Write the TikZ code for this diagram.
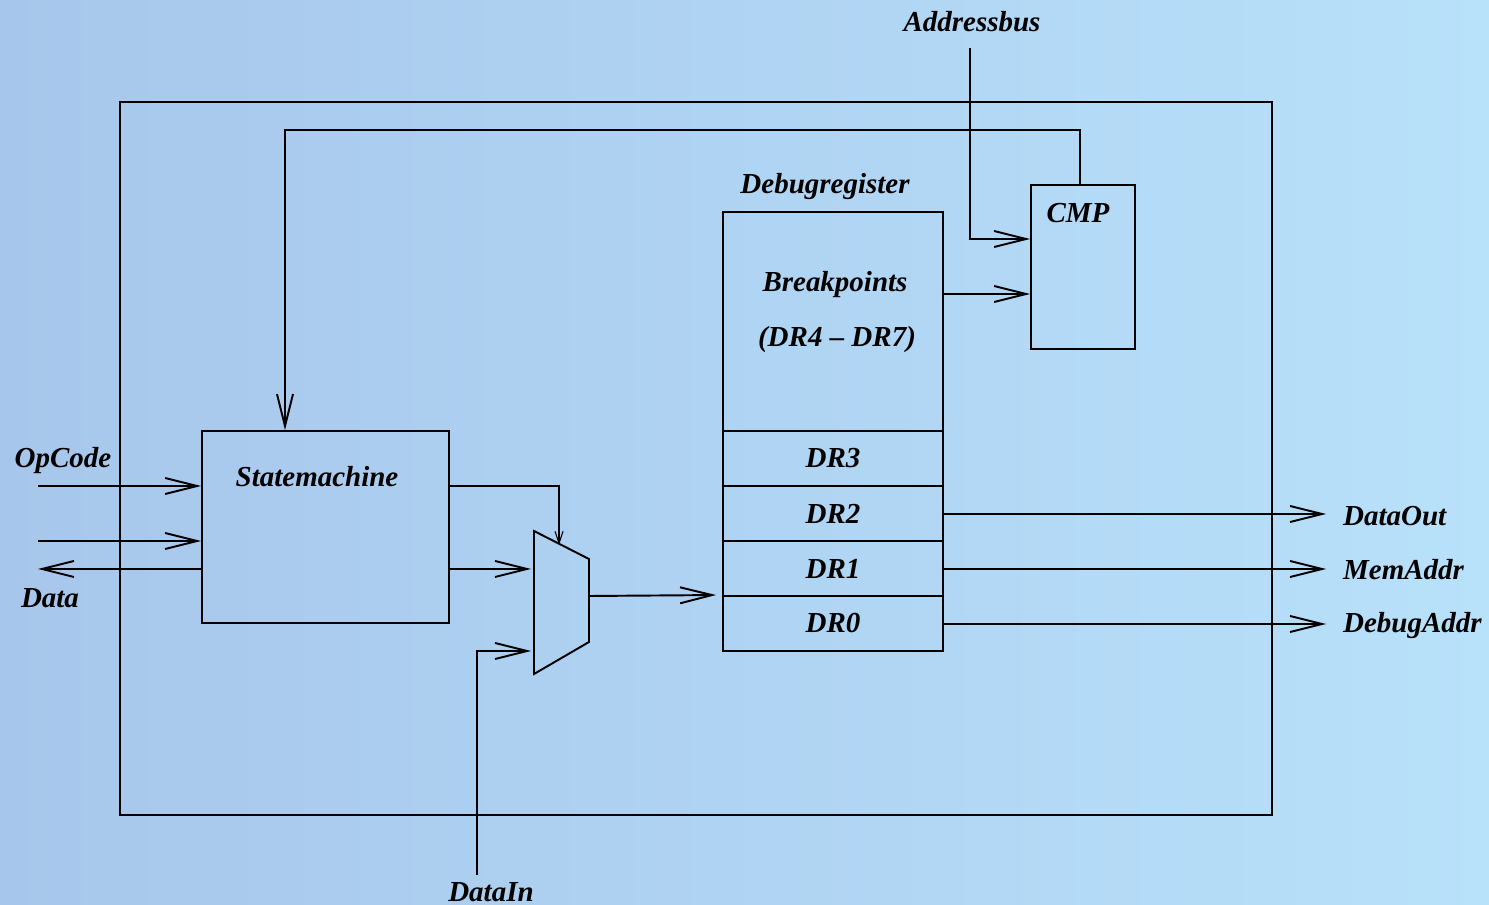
\documentclass[tikz,border=0pt]{standalone}
\usepackage{fontspec}
\setmainfont{Liberation Serif}
\usetikzlibrary{arrows.meta,positioning,calc}
\definecolor{bgleft}{HTML}{A7C6EB}
\definecolor{bgright}{HTML}{B8E1FA}

\begin{document}
\begin{tikzpicture}[x=0.02cm,y=-0.02cm,
  font=\fontsize{16.5}{19}\selectfont\bfseries\itshape,
  box/.style={draw,line width=1.1pt,inner sep=0pt},
  reg/.style={box,minimum width=4.4cm,minimum height=1.1cm},
  wire/.style={line width=1.1pt},
  sig/.style={wire,-{Straight Barb[length=6.4mm,width=3.2mm,line width=1.1pt]}},
  ctl/.style={line width=0.6pt,-{Straight Barb[length=2.4mm,width=1.6mm]}},
  lbl/.style={inner sep=1pt}]

% ---- background
\shade[left color=bgleft,right color=bgright] (0,0) rectangle (1489,905);
\useasboundingbox (0,0) rectangle (1489,905);

% ---- outer frame
\node[box,minimum width=23.04cm,minimum height=14.26cm] (frame) at (696,458.5) {};

% ---- blocks
\node[box,minimum width=4.94cm,minimum height=3.84cm] (sm) at (325.5,527) {};
\node[lbl] (smtxt) at (317,477) {Statemachine};
\node[box,minimum width=2.08cm,minimum height=3.28cm] (cmp) at (1083,267) {};
\node[lbl] (cmptxt) at (1078,213) {CMP};
\node[box,minimum width=4.4cm,minimum height=4.38cm] (bp) at (833,321.5) {};
\node[lbl] (bptxt) at (835,285) {Breakpoints};
\node[lbl] (bprange) at (837,340) {(DR4 -- DR7)};
\node[lbl] (dbgreg) at (825,187) {Debugregister};
\node[reg] (dr3) at (833,458.5) {DR3};
\node[reg] (dr2) at (833,513.5) {DR2};
\node[reg] (dr1) at (833,568.5) {DR1};
\node[reg] (dr0) at (833,623.5) {DR0};

% ---- multiplexer
\coordinate (mux1) at (534,531);
\coordinate (mux2) at (589,559);
\coordinate (mux3) at (589,642);
\coordinate (mux4) at (534,674);
\draw[wire] (mux1) -- (mux2) -- (mux3) -- (mux4) -- cycle;
\coordinate (muxin1) at (531,569);
\coordinate (muxin2) at (531,651);
\coordinate (muxsel) at (559,545);
\coordinate (muxout) at (589,596);

% ---- external labels
\node[lbl] (opcode) at (63,461) {OpCode};
\node[lbl] (data) at (50,598) {Data};
\node[lbl] (addrbus) at (972,22) {Addressbus};
\node[lbl] (datain) at (491,892) {DataIn};
\node[lbl,anchor=west] (dataout) at (1341,516) {DataOut};
\node[lbl,anchor=west] (memaddr) at (1341,570) {MemAddr};
\node[lbl,anchor=west] (debugaddr) at (1341,626) {DebugAddr};
\coordinate (op1) at (38,486);
\coordinate (op2) at (38,541);
\coordinate (dout) at (38,569);
\coordinate (abtop) at (970,48);
\coordinate (ditop) at (477,875);
\coordinate (o2) at (1326,514);
\coordinate (o1) at (1326,569);
\coordinate (o0) at (1326,624);

% ---- connections
\draw[sig] (op1) -- (op1 -| sm.west);
\draw[sig] (op2) -- (op2 -| sm.west);
\draw[sig] (dout -| sm.west) -- (dout);
\draw[sig] (abtop) |- ($(cmp.west)+(0,-28)$);
\draw[sig] (bp.east |- 0,294) -- (cmp.west |- 0,294);
\draw[sig] ($(cmp.north)+(-3,0)$) |- (285,130) -- (sm.north -| 285,0);
\draw[ctl] (sm.east |- 0,486) -| (muxsel);
\draw[sig] (sm.east |- muxin1) -- (muxin1);
\draw[sig] (ditop) |- (muxin2);
\draw[sig] (muxout) -- ($(dr0.north west)+(-6,0)$);
\draw[sig] (dr2.east |- o2) -- (o2);
\draw[sig] (dr1.east |- o1) -- (o1);
\draw[sig] (dr0.east |- o0) -- (o0);
\end{tikzpicture}
\end{document}
